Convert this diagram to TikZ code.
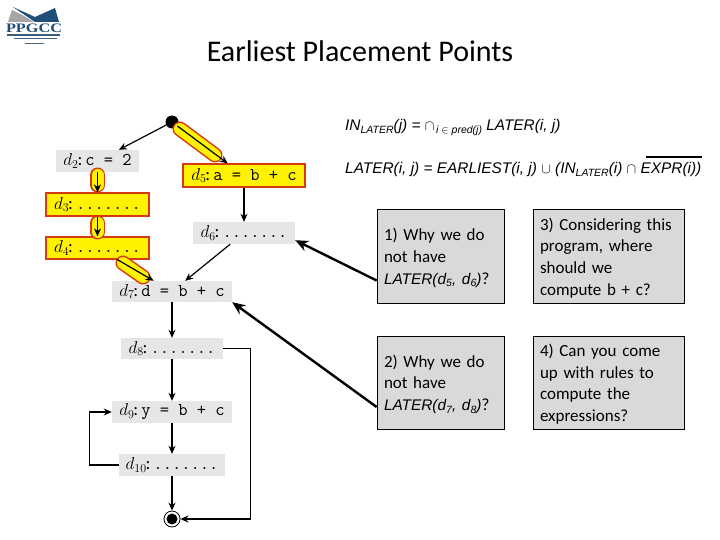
\documentclass[tikz,border=0pt]{standalone}
\usepackage{fontspec}
\setmainfont{Carlito}
\newfontfamily\formfont{Liberation Sans}
\newfontfamily\logofont{Liberation Serif}
\usetikzlibrary{arrows.meta}
\definecolor{stmtgray}{HTML}{E6E6E6}
\definecolor{boxgray}{HTML}{D9D9D9}
\definecolor{capred}{HTML}{D8390F}
\definecolor{capyellow}{HTML}{FFF200}
\definecolor{logoblue}{HTML}{1F4E79}
\definecolor{logogray}{HTML}{A6A6A6}
\newcommand{\lsub}[1]{\raisebox{-2.5pt}{\fontsize{10.5}{11}\selectfont #1}}
\newcommand{\stmt}[2]{$d_{#1}$\kern-1pt:\,\texttt{#2}}
\begin{document}
\begin{tikzpicture}[
  x=1pt, y=-1pt,
  >={Stealth[length=8pt, width=7pt]},
  stmtbox/.style={rectangle, fill=stmtgray, inner sep=0pt, font=\fontsize{18}{18}\selectfont},
  hotbox/.style={rectangle, fill=capyellow, draw=capred, line width=1.2pt, inner sep=0pt, font=\fontsize{18}{18}\selectfont},
  question/.style={rectangle, fill=boxgray, draw=black, line width=0.7pt, inner sep=0pt, align=left, font=\fontsize{17}{21.6}\selectfont},
  formula/.style={anchor=base west, inner sep=0pt, font=\formfont\itshape\fontsize{15.4}{16}\selectfont},
  capsule/.style={draw=capred, double=capyellow, double distance=12pt, line width=1.5pt, line cap=round},
  flow/.style={->, line width=1.2pt},
  callout/.style={-{Stealth[length=13pt, width=11pt]}, line width=2.4pt},
]
\useasboundingbox (0,0) rectangle (720,540);

% ---- logo ----
\fill[logogray] (8,22) -- (12,10) -- (24,16) -- (34,22) -- cycle;
\fill[logoblue] (13,7) -- (35,17) -- (55,8) -- (59,22) -- (35,22) -- cycle;
\node[font=\logofont\bfseries\fontsize{13}{13}\selectfont, text=logoblue, inner sep=0pt, xscale=1.25, transform shape] (logo) at (34,28) {PPGCC};
\draw[logoblue!70!gray, line width=1.2pt] (7,35) -- (60,35);
\draw[logoblue!60!gray, line width=1pt] (14,39) -- (57,39);
\draw[logoblue!50!gray, line width=0.8pt] (25,43) -- (44,43);

% ---- title ----
\node[font=\fontsize{30}{30}\selectfont, inner sep=0pt] (title) at (360,51) {Earliest Placement Points};

% ---- program statements ----
\node[stmtbox, minimum width=83pt, minimum height=22pt] (d2) at (97.5,161) {\stmt{2}{c = 2}};
\node[hotbox, minimum width=122pt, minimum height=23pt] (d5) at (244,175.5) {\stmt{5}{a = b + c}};
\node[hotbox, minimum width=103pt, minimum height=23pt] (d3) at (97.5,204.5) {\stmt{3}{.......}};
\node[hotbox, minimum width=103pt, minimum height=22pt] (d4) at (97.5,248) {\stmt{4}{.......}};
\node[stmtbox, minimum width=102pt, minimum height=22pt] (d6) at (244,233) {\stmt{6}{.......}};
\node[stmtbox, minimum width=120pt, minimum height=21pt] (d7) at (172,291.5) {\stmt{7}{d = b + c}};
\node[stmtbox, minimum width=102pt, minimum height=21pt] (d8) at (172,348.5) {\stmt{8}{.......}};
\node[stmtbox, minimum width=120pt, minimum height=22pt] (d9) at (172,412) {\stmt{9}{y = b + c}};
\node[stmtbox, minimum width=106pt, minimum height=22pt] (d10) at (172,465) {\stmt{10}{.......}};

% ---- entry and exit ----
\node[circle, fill=black, minimum size=13pt, inner sep=0pt] (entry) at (172,122) {};
\node[circle, draw=black, line width=0.8pt, fill=white, minimum size=16pt, inner sep=0pt] (exit) at (172,519) {};
\node[circle, fill=black, minimum size=11pt, inner sep=0pt] (exitdot) at (exit) {};

% ---- capsules around the edges that carry LATER ----
\coordinate (c1a) at (180,129);
\coordinate (c1b) at (215,155);
\coordinate (c2a) at (97.5,175);
\coordinate (c2b) at (97.5,185);
\coordinate (c3a) at (97.5,223);
\coordinate (c3b) at (97.5,232);
\coordinate (c4a) at (123,263);
\coordinate (c4b) at (143,277);
\draw[capsule] (c1a) -- (c1b);
\draw[capsule] (c2a) -- (c2b);
\draw[capsule] (c3a) -- (c3b);
\draw[capsule] (c4a) -- (c4b);

% ---- flow edges ----
\draw[flow] (entry) -- (d2);
\draw[flow] (entry) -- (d5);
\draw[flow] (d2) -- (d3);
\draw[flow] (d3) -- (d4);
\draw[flow] (d4) -- (d7);
\draw[flow] (d5) -- (d6);
\draw[flow] (d6) -- (d7);
\draw[flow] (d7) -- (d8);
\draw[flow] (d8) -- (d9);
\draw[flow] (d9) -- (d10);
\draw[flow] (d10) -- (exit);
\draw[flow] (d8.east) -- ++(27,0) |- (exit);
\draw[flow] (d10.west) -- ++(-29,0) |- (d9.west);

% ---- equations ----
\node[formula] (eqin) at (345,131) {IN\lsub{LATER}(j) = $\cap$\lsub{\,i $\in$ pred(j)} LATER(i, j)};
\node[formula] (eqlater) at (345,174) {LATER(i, j) = EARLIEST(i, j) $\cup$ (IN\lsub{LATER}(i) $\cap$ EXPR(i))};
\draw[line width=2.4pt] (646,157) -- (702,157);

% ---- questions ----
\node[question, minimum width=127pt, minimum height=94pt, text width=113pt] (q1) at (440.5,256) {\rule{0pt}{16pt}1) Why we do\\not have\\{\formfont\itshape\fontsize{15.4}{16}\selectfont LATER(d\lsub{5}, d\lsub{6})}?};
\node[question, minimum width=127pt, minimum height=93pt, text width=113pt] (q2) at (440.5,382.5) {\rule{0pt}{16pt}2) Why we do\\not have\\{\formfont\itshape\fontsize{15.4}{16}\selectfont LATER(d\lsub{7}, d\lsub{8})}?};
\node[question, minimum width=151pt, minimum height=94pt, text width=137pt] (q3) at (608.5,256) {\rule{0pt}{16pt}3) Considering this\\program, where\\should we\\compute b + c?};
\node[question, minimum width=151pt, minimum height=93pt, text width=137pt] (q4) at (608.5,382.5) {\rule{0pt}{16pt}4) Can you come\\up with rules to\\compute the\\expressions?};

% ---- callouts ----
\draw[callout] (q1.201) -- (d6.-8);
\draw[callout] (q2.201) -- (d7.south east);

\end{tikzpicture}
\end{document}
